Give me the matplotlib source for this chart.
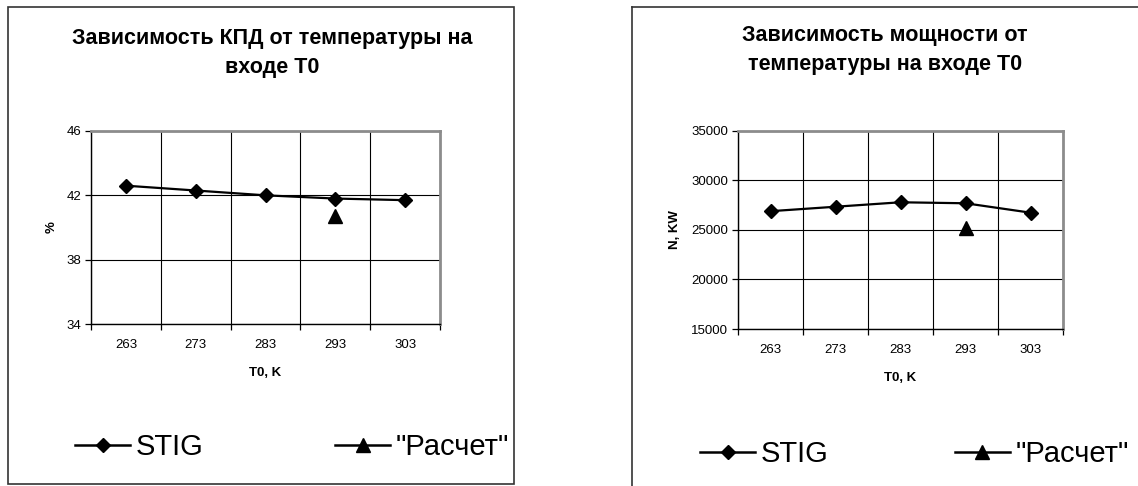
import matplotlib
matplotlib.use("Agg")
import matplotlib.pyplot as plt
from matplotlib.lines import Line2D
from matplotlib.patches import Rectangle

plt.rcParams['font.family'] = ['Liberation Sans', 'DejaVu Sans']

# Data
temps = ["263", "273", "283", "293", "303"]
eff_stig = [42.6, 42.3, 42.0, 41.8, 41.7]
eff_calc = [None, None, None, 40.7, None]
power_stig = [26900, 27350, 27800, 27700, 26750]
power_calc = [None, None, None, 25200, None]

eff_ticks = [34, 38, 42, 46]
power_ticks = [15000, 20000, 25000, 30000, 35000]

W, H = 1138, 486
fig = plt.figure(figsize=(W / 100, H / 100), dpi=100)


def fx(px):
    return px / W


def fy(py):
    return 1 - py / H


def draw_panel(rect, stig, calc, yticks, ylabel, title, title_xy, xlabel_y,
               legend_xy, colspace):
    ax = fig.add_axes(rect)
    n = len(temps)
    xs = list(range(n))
    ax.set_xlim(-0.5, n - 0.5)
    ax.set_ylim(yticks[0], yticks[-1])

    # category boundaries carry ticks and gridlines, labels sit at centres
    ax.set_xticks([i - 0.5 for i in range(n + 1)])
    ax.set_xticklabels([])
    ax.set_xticks(xs, minor=True)
    ax.set_xticklabels(temps, minor=True)
    ax.tick_params(axis='x', which='major', direction='out', length=4.5,
                   width=0.9, color='black')
    ax.tick_params(axis='x', which='minor', length=0, pad=10.5,
                   labelsize=9.5)
    ax.set_yticks(yticks)
    ax.set_yticklabels([str(t) for t in yticks])
    ax.tick_params(axis='y', direction='out', length=4.5, width=0.9,
                   pad=2.5, labelsize=9.5)

    ax.grid(True, which='major', color='black', linewidth=0.8)
    ax.set_axisbelow(True)

    for side in ('top', 'right'):
        ax.spines[side].set_color('#8c8c8c')
        ax.spines[side].set_linewidth(2.0)
    for side in ('left', 'bottom'):
        ax.spines[side].set_color('black')
        ax.spines[side].set_linewidth(1.0)

    l1, = ax.plot(xs, stig, color='black', linewidth=1.6, marker='D',
                  markersize=7, markerfacecolor='black',
                  markeredgecolor='black', label='STIG', clip_on=False,
                  zorder=3)
    cx = [x for x, v in zip(xs, calc) if v is not None]
    cy = [v for v in calc if v is not None]
    l2, = ax.plot(cx, cy, color='black', linewidth=1.6, marker='^',
                  markersize=10, markerfacecolor='black',
                  markeredgecolor='black', label='"Расчет"', zorder=3)

    ax.set_ylabel(ylabel, fontsize=9.5, fontweight='bold')
    fig.text(fx(title_xy[0]), fy(title_xy[1]), title, ha='center',
             va='center', fontsize=15.5, fontweight='bold',
             linespacing=1.45)
    fig.text(rect[0] + rect[2] / 2, fy(xlabel_y), "T0, K", ha='center',
             va='center', fontsize=9.5, fontweight='bold')

    leg = fig.legend(handles=[l1, l2], loc='center left',
                     bbox_to_anchor=(fx(legend_xy[0]), fy(legend_xy[1])),
                     bbox_transform=fig.transFigure, ncol=2, frameon=False,
                     fontsize=21, handlelength=1.89, handletextpad=0.2,
                     columnspacing=colspace, borderpad=0, borderaxespad=0)
    for h in leg.legend_handles:
        h.set_linewidth(1.8)
    return ax


ax1 = draw_panel([fx(91), fy(324), fx(440) - fx(91), fy(131) - fy(324)],
                 eff_stig, eff_calc, eff_ticks, "%",
                 "Зависимость КПД от температуры на\nвходе T0",
                 (272, 53), 373, (75, 447), 4.5)
ax1.yaxis.set_label_coords(-0.095, 0.5)

ax2 = draw_panel([fx(738), fy(329), fx(1063) - fx(738), fy(131) - fy(329)],
                 power_stig, power_calc, power_ticks, "N, KW",
                 "Зависимость мощности от\nтемпературы на входе T0",
                 (885, 50), 378, (700, 454), 4.32)
ax2.yaxis.set_label_coords(-0.175, 0.5)

# chart frames
fig.patches.append(Rectangle((fx(8), fy(484)), fx(514) - fx(8),
                             fy(7) - fy(484), transform=fig.transFigure,
                             fill=False, edgecolor='#333333', linewidth=1.2))
fig.lines.append(Line2D([fx(632), fx(632)], [0, fy(7)],
                        transform=fig.transFigure, color='#333333',
                        linewidth=1.2))
fig.lines.append(Line2D([fx(632), 1], [fy(7), fy(7)],
                        transform=fig.transFigure, color='#333333',
                        linewidth=1.2))

fig.savefig("out.png", dpi=100)
